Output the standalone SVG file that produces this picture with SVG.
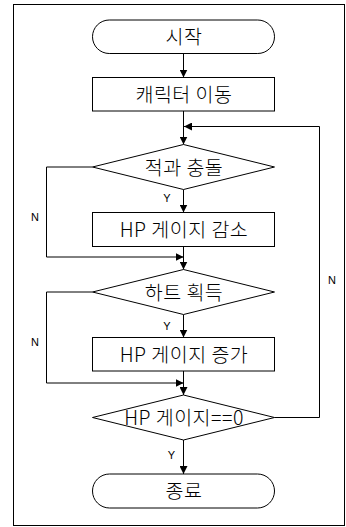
<svg xmlns="http://www.w3.org/2000/svg" width="346" height="527" viewBox="0 0 346 527">
<style>
.shape{fill:#fff;stroke:#000;stroke-width:1}
.con{fill:none;stroke:#000;stroke-width:1}
.t{font-family:"Noto Sans CJK KR","Liberation Sans",sans-serif;font-size:19.5px;font-weight:300;fill:#000;text-anchor:middle;letter-spacing:0.5px}
.lbl{font-family:"Liberation Sans",sans-serif;font-size:11px;fill:#000;text-anchor:middle}
</style>
<defs>
<marker id="ah" markerUnits="userSpaceOnUse" markerWidth="8" markerHeight="8" refX="8" refY="4" orient="auto">
<path d="M0,0 L8,4 L0,8 z" fill="#000"/>
</marker>
</defs>
<rect x="13.5" y="4.5" width="331" height="521" fill="#fff" stroke="#000" stroke-width="1"/>
<g id="connectors">
<path class="con" d="M183.5,53.5 V77.5" marker-end="url(#ah)"/>
<path class="con" d="M183.5,111 V144.5" marker-end="url(#ah)"/>
<path class="con" d="M274.5,417.5 H319.5 V126.5 H184" marker-end="url(#ah)"/>
<path class="con" d="M183.5,189.5 V212.5" marker-end="url(#ah)"/>
<path class="con" d="M92.5,167 H46.5 V257 H183.5" marker-end="url(#ah)"/>
<path class="con" d="M183.5,246.5 V269.5" marker-end="url(#ah)"/>
<path class="con" d="M183.5,314.5 V337.5" marker-end="url(#ah)"/>
<path class="con" d="M92.5,292 H46.5 V383 H183.5" marker-end="url(#ah)"/>
<path class="con" d="M183.5,371 V395" marker-end="url(#ah)"/>
<path class="con" d="M183.5,440 V474" marker-end="url(#ah)"/>
<text class="lbl" x="167" y="202">Y</text>
<text class="lbl" x="35" y="221">N</text>
<text class="lbl" x="167" y="330">Y</text>
<text class="lbl" x="35" y="346">N</text>
<text class="lbl" x="171.5" y="459">Y</text>
<text class="lbl" x="332" y="284">N</text>
</g>
<g id="start">
<rect class="shape" x="92.5" y="20" width="182" height="33.5" rx="16.75"/>
<text class="t" x="184" y="43.5">시작</text>
</g>
<g id="move">
<rect class="shape" x="92.5" y="77.5" width="182" height="33.5"/>
<text class="t" x="184" y="101.5">캐릭터 이동</text>
</g>
<g id="enemy">
<polygon class="shape" points="183.5,144.5 274.5,167 183.5,189.5 92.5,167"/>
<text class="t" x="184" y="174.5">적과 충돌</text>
</g>
<g id="hpdec">
<rect class="shape" x="92.5" y="212.5" width="182" height="34"/>
<text class="t" x="184" y="236.5">HP 게이지 감소</text>
</g>
<g id="heart">
<polygon class="shape" points="183.5,269.5 274.5,292 183.5,314.5 92.5,292"/>
<text class="t" x="184" y="299.5">하트 획득</text>
</g>
<g id="hpinc">
<rect class="shape" x="92.5" y="337.5" width="182" height="33.5"/>
<text class="t" x="184" y="361.5">HP 게이지 증가</text>
</g>
<g id="hpzero">
<polygon class="shape" points="183.5,395 274.5,417.5 183.5,440 92.5,417.5"/>
<text class="t" x="184" y="425">HP 게이지==0</text>
</g>
<g id="end">
<rect class="shape" x="92.5" y="474" width="182" height="34" rx="17"/>
<text class="t" x="184" y="498">종료</text>
</g>
</svg>
